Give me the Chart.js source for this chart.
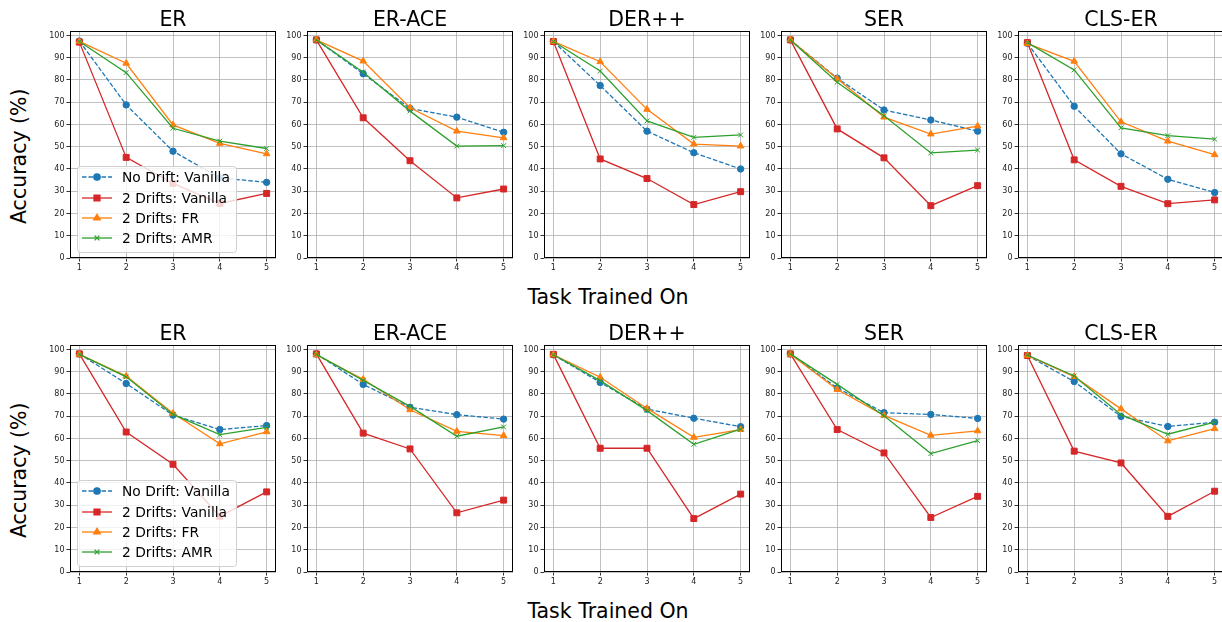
<!DOCTYPE html>
<html lang="en">
<head>
<meta charset="UTF-8">
<title>Accuracy per task under drift</title>
<script src="https://cdn.jsdelivr.net/npm/chart.js"></script>
<style>
    body { margin: 0; background: #fff; font-family: "DejaVu Sans", sans-serif; color: #000; }
    #fig { position: relative; width: 1222px; height: 622px; overflow: hidden; }
    canvas { position: absolute; }
    .lbl { position: absolute; font-size: 20.5px; line-height: 20.5px; white-space: nowrap; }
    .ptitle { width: 206px; text-align: center; }
    .xlab { width: 400px; text-align: center; }
    .ylab { width: 200px; text-align: center; transform: rotate(-90deg); }
</style>
</head>
<body>
<div id="fig"></div>

<script>
// tasks on the x axis, one panel per method
const tasks = [1, 2, 3, 4, 5];
const methods = ["ER", "ER-ACE", "DER++", "SER", "CLS-ER"];
const seriesNames = ["No Drift: Vanilla", "2 Drifts: Vanilla", "2 Drifts: FR", "2 Drifts: AMR"];
const yTicks = [0, 10, 20, 30, 40, 50, 60, 70, 80, 90, 100];

// top row, one array per method (ER, ER-ACE, DER++, SER, CLS-ER)
const topNoDrift = [
    [97.5, 68.8, 48.0, 36.0, 34.0],
    [98.0, 82.8, 67.2, 63.3, 56.5],
    [97.3, 77.5, 57.0, 47.3, 40.0],
    [98.0, 80.8, 66.5, 62.0, 57.0],
    [96.5, 68.2, 46.8, 35.4, 29.4]
];
const topVanilla = [
    [97.0, 45.2, 33.5, 24.5, 29.0],
    [98.0, 63.0, 43.7, 27.0, 31.0],
    [97.3, 44.5, 35.7, 24.0, 29.8],
    [98.0, 58.0, 45.0, 23.5, 32.5],
    [96.8, 44.1, 32.2, 24.4, 26.1]
];
const topFR = [
    [97.3, 87.5, 59.8, 51.5, 46.8],
    [98.0, 88.5, 67.5, 57.0, 54.0],
    [97.3, 88.2, 66.8, 51.2, 50.3],
    [98.0, 80.5, 63.3, 55.7, 59.3],
    [96.3, 88.4, 61.2, 52.5, 46.4]
];
const topAMR = [
    [97.3, 83.3, 58.3, 52.5, 49.2],
    [98.0, 83.5, 66.0, 50.3, 50.5],
    [97.3, 84.0, 61.6, 54.2, 55.3],
    [98.0, 79.0, 63.9, 47.2, 48.5],
    [96.8, 84.5, 58.5, 55.0, 53.4]
];

// bottom row
const botNoDrift = [
    [98.0, 84.7, 70.5, 64.0, 65.8],
    [98.0, 84.3, 74.0, 70.7, 68.7],
    [97.6, 85.2, 73.2, 69.1, 65.3],
    [98.0, 82.7, 71.6, 70.8, 69.0],
    [97.3, 85.6, 69.9, 65.4, 67.3]
];
const botVanilla = [
    [98.0, 62.9, 48.4, 25.0, 36.0],
    [98.0, 62.4, 55.3, 26.6, 32.3],
    [97.8, 55.6, 55.6, 24.0, 35.0],
    [98.0, 64.0, 53.5, 24.5, 34.0],
    [97.3, 54.3, 49.0, 25.0, 36.3]
];
const botFR = [
    [97.8, 88.0, 71.3, 57.6, 63.0],
    [97.6, 86.6, 72.9, 63.2, 61.3],
    [97.6, 87.5, 73.5, 60.5, 64.0],
    [97.8, 82.0, 70.4, 61.4, 63.4],
    [97.3, 87.8, 73.3, 58.9, 64.4]
];
const botAMR = [
    [97.8, 87.7, 70.8, 61.7, 65.0],
    [97.8, 86.1, 74.4, 61.0, 65.2],
    [97.6, 86.0, 72.5, 57.4, 64.2],
    [98.0, 84.3, 70.2, 53.2, 59.0],
    [97.5, 88.1, 70.7, 61.9, 67.3]
];

const colors = ["#1f77b4", "#d62728", "#ff7f0e", "#2ca02c"];
const pointStyles = ["circle", "rect", "triangle", "crossRot"];
const pointRadii = [3.2, 4.2, 3.8, 3.4];
const dashes = [[4.5, 2], [], [], []];

const plotLefts = [70, 307, 544, 781, 1018];
const plotTops = [31, 345];
const plotW = 206, plotH = 227;
const padL = 34, padT = 8, padR = 6, padB = 22;

// matplotlib style frame around the plot area
const framePlugin = {
    id: 'frame',
    afterDatasetsDraw(chart) {
        const a = chart.chartArea, ctx = chart.ctx;
        ctx.save();
        ctx.strokeStyle = '#000';
        ctx.lineWidth = 1;
        ctx.strokeRect(Math.round(a.left) + 0.5, Math.round(a.top) + 0.5,
            Math.round(a.right - a.left) - 1, Math.round(a.bottom - a.top) - 1);
        ctx.restore();
    }
};

// legend inside the plot, lower left
const boxLegend = {
    id: 'boxLegend',
    afterDraw(chart, args, opts) {
        if (!opts.show) return;
        const ctx = chart.ctx, a = chart.chartArea;
        const w = 159, h = 86;
        const x = a.left + 7, y = a.bottom - 6 - h;
        ctx.save();
        ctx.beginPath();
        ctx.roundRect(x + 0.5, y + 0.5, w, h, 3);
        ctx.fillStyle = 'rgba(255,255,255,0.8)';
        ctx.fill();
        ctx.strokeStyle = '#d0d0d0';
        ctx.lineWidth = 1;
        ctx.stroke();
        const rows = [11, 32, 52, 72];
        seriesNames.forEach((name, i) => {
            const cy = y + rows[i];
            ctx.strokeStyle = colors[i];
            ctx.lineWidth = 1.3;
            ctx.setLineDash(dashes[i]);
            ctx.beginPath();
            ctx.moveTo(x + 5, cy);
            ctx.lineTo(x + 35, cy);
            ctx.stroke();
            ctx.setLineDash([]);
            ctx.fillStyle = colors[i];
            Chart.helpers.drawPoint(ctx, {
                pointStyle: pointStyles[i], radius: pointRadii[i], borderWidth: 1, rotation: 0
            }, x + 20, cy);
            ctx.fillStyle = '#000';
            ctx.font = '13.8px "DejaVu Sans"';
            ctx.textBaseline = 'middle';
            ctx.fillText(name, x + 45, cy + 1);
        });
        ctx.restore();
    }
};

function makeDatasets(rows, m) {
    return rows.map((row, s) => ({
        label: seriesNames[s],
        data: tasks.map((t, i) => ({ x: t, y: row[m][i] })),
        borderColor: colors[s],
        backgroundColor: colors[s],
        pointBackgroundColor: colors[s],
        pointBorderColor: colors[s],
        pointStyle: pointStyles[s],
        pointRadius: pointRadii[s],
        pointBorderWidth: 1,
        borderWidth: 1.3,
        borderDash: dashes[s],
        order: 3 - s,
        tension: 0
    }));
}

const fig = document.getElementById('fig');

function addLabel(text, cls, left, top) {
    const d = document.createElement('div');
    d.className = 'lbl ' + cls;
    d.textContent = text;
    d.style.left = left + 'px';
    d.style.top = top + 'px';
    fig.appendChild(d);
}

const rowsData = [
    [topNoDrift, topVanilla, topFR, topAMR],
    [botNoDrift, botVanilla, botFR, botAMR]
];

rowsData.forEach((rows, r) => {
    const T = plotTops[r];
    methods.forEach((method, m) => {
        const L = plotLefts[m];
        const cv = document.createElement('canvas');
        cv.width = plotW + padL + padR;
        cv.height = plotH + padT + padB;
        cv.style.left = (L - padL) + 'px';
        cv.style.top = (T - padT) + 'px';
        fig.appendChild(cv);

        new Chart(cv.getContext('2d'), {
            type: 'line',
            data: { datasets: makeDatasets(rows, m) },
            options: {
                responsive: false,
                animation: false,
                layout: { padding: { top: padT, right: padR, left: 0, bottom: 0 } },
                plugins: {
                    legend: { display: false },
                    tooltip: { enabled: false },
                    boxLegend: { show: m === 0 }
                },
                scales: {
                    x: {
                        type: 'linear',
                        min: 0.8,
                        max: 5.2,
                        afterFit: s => { s.height = padB; },
                        afterBuildTicks: s => { s.ticks = tasks.map(v => ({ value: v })); },
                        grid: { color: '#b0b0b0', lineWidth: 0.8, tickColor: '#000', tickLength: 3.5 },
                        border: { display: false },
                        ticks: { font: { size: 8, family: 'DejaVu Sans' }, color: '#222', padding: 2 }
                    },
                    y: {
                        min: 0,
                        max: 102,
                        afterFit: s => { s.width = padL; },
                        afterBuildTicks: s => { s.ticks = yTicks.map(v => ({ value: v })); },
                        grid: { color: '#b0b0b0', lineWidth: 0.8, tickColor: '#000', tickLength: 3.5 },
                        border: { display: false },
                        ticks: { font: { size: 8, family: 'DejaVu Sans' }, color: '#222', padding: 2 }
                    }
                }
            },
            plugins: [framePlugin, boxLegend]
        });

        addLabel(method, 'ptitle', L, T - 22);
    });
    addLabel('Task Trained On', 'xlab', 408, T + 256);
    addLabel('Accuracy (%)', 'ylab', 19 - 100, T + 125 - 10);
});
</script>
</body>
</html>
